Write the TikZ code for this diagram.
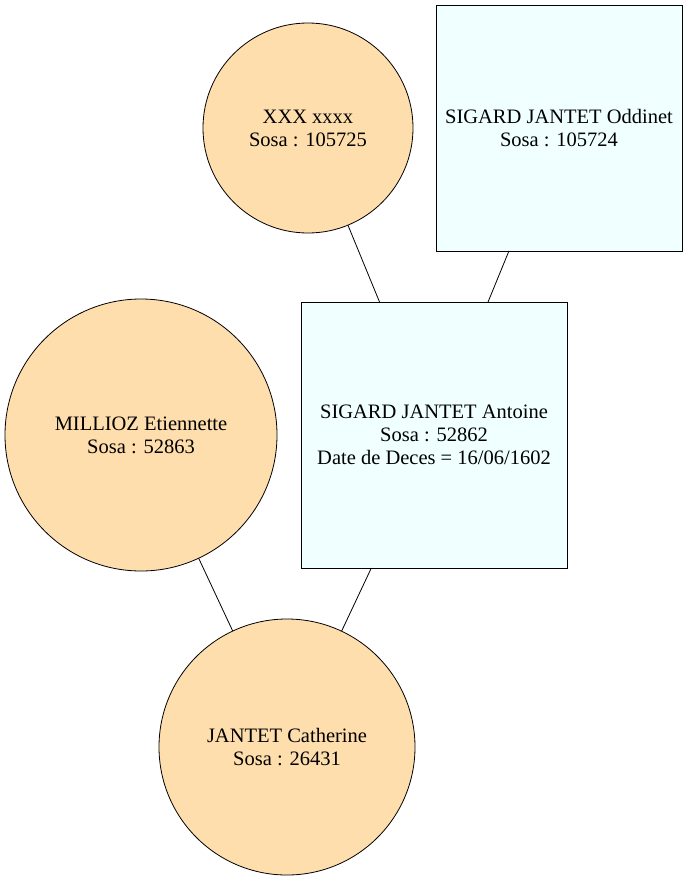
\documentclass[tikz,border=0pt]{standalone}
\usepackage{fontspec}
\setmainfont{Liberation Serif}
\definecolor{peach}{HTML}{FFDEAD}
\definecolor{paleblue}{HTML}{F0FFFF}
\tikzset{
	femnode/.style={circle, draw=black, fill=peach, line width=0.8pt, inner sep=0pt, outer sep=0pt,
		align=center, font=\fontsize{20.5}{23}\selectfont},
	mannode/.style={rectangle, draw=black, fill=paleblue, line width=0.8pt, inner sep=0pt, outer sep=0pt,
		align=center, font=\fontsize{20.5}{23}\selectfont},
	kinline/.style={line width=0.8pt}
}
\begin{document}
\begin{tikzpicture}[x=1pt, y=-1pt]
			\useasboundingbox (0,0) rectangle (688,881);
			\node[femnode, minimum size=210pt] (xxx) at (308,128) {XXX xxxx\\Sosa : 105725};
			\node[mannode, minimum size=246pt] (oddinet) at (559,128) {SIGARD JANTET Oddinet\\Sosa : 105724};
			\node[mannode, minimum size=266pt] (antoine) at (434,435) {SIGARD JANTET Antoine\\Sosa : 52862\\Date de Deces = 16/06/1602};
			\node[femnode, minimum size=272pt] (millioz) at (141,435) {MILLIOZ Etiennette\\Sosa : 52863};
			\node[femnode, minimum size=256pt] (catherine) at (287,747) {JANTET Catherine\\Sosa : 26431};
			\draw[kinline] (xxx)--(antoine);
			\draw[kinline] (oddinet)--(antoine);
			\draw[kinline] (millioz)--(catherine);
			\draw[kinline] (antoine)--(catherine);
		\end{tikzpicture}
\end{document}
